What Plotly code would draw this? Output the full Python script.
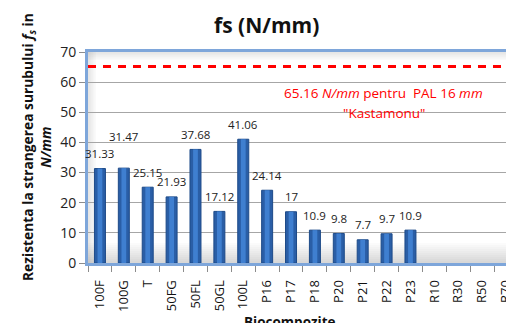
import plotly.graph_objects as go

# Screw-tightening resistance fs (N/mm) per biocomposite sample
categories = ["100F", "100G", "T", "50FG", "50FL", "50GL", "100L",
              "P16", "P17", "P18", "P20", "P21", "P22", "P23",
              "R10", "R30", "R50", "R70"]
fs_values = [31.33, 31.47, 25.15, 21.93, 37.68, 17.12, 41.06,
             24.14, 17, 10.9, 9.8, 7.7, 9.7, 10.9,
             None, None, None, None]
# reference value for commercial chipboard (PAL 16 mm, Kastamonu)
pal_reference = 65.16
y_ticks = [0, 10, 20, 30, 40, 50, 60, 70]

W, H = 506, 323
ML, MT, MB = 88, 52, 60
plot_h = H - MT - MB
plot_w = W - ML

FONT = "Open Sans, Noto Sans, sans-serif"
BORDER = "#7EA6DA"


def px_x(px):
    return (px - ML) / plot_w


def px_y(py):
    return (H - MB - py) / plot_h


fig = go.Figure()

# bars: dark outer body plus a lighter centre strip for the rounded look
fig.add_trace(go.Bar(
    x=categories, y=fs_values, width=0.46,
    marker=dict(color="#2A5EA6", line=dict(color="#1D4A88", width=1)),
    hoverinfo="x+y", showlegend=False,
))
fig.add_trace(go.Bar(
    x=categories, y=fs_values, width=0.2,
    marker=dict(color="#3F7FD0", line=dict(width=0)),
    hoverinfo="skip", showlegend=False,
))

# value labels above each bar
label_shift = {"100G": 32}
for cat, val in zip(categories, fs_values):
    if val is None:
        continue
    fig.add_annotation(
        x=cat, y=val, text=f"{val:g}", showarrow=False,
        xanchor="center", yanchor="middle",
        yshift=label_shift.get(cat, 15),
        font=dict(family=FONT, size=11.5, color="#222222"),
    )

shapes = []
# soft inner shadow along the bottom, left and top of the plot area
for i in range(1, 11):
    shapes.append(dict(type="rect", xref="paper", yref="paper",
                       x0=0, x1=1, y0=0, y1=(2 * i) / plot_h,
                       fillcolor="rgba(120,120,120,0.028)", line_width=0,
                       layer="below"))
for i in range(1, 6):
    shapes.append(dict(type="rect", xref="paper", yref="paper",
                       x0=0, x1=(1.6 * i) / plot_w, y0=0, y1=1,
                       fillcolor="rgba(120,120,120,0.04)", line_width=0,
                       layer="below"))
    shapes.append(dict(type="rect", xref="paper", yref="paper",
                       x0=0, x1=1, y0=1 - (1.6 * i) / plot_h, y1=1,
                       fillcolor="rgba(120,120,120,0.04)", line_width=0,
                       layer="below"))

# dashed reference line
shapes.append(dict(type="line", xref="paper", yref="y",
                   x0=0, x1=1, y0=pal_reference, y1=pal_reference,
                   line=dict(color="#FF0000", width=3, dash="8px,7px")))
fig.update_layout(shapes=shapes)


def note(text, x, y, size, color="#111111", **kw):
    fig.add_annotation(
        xref="paper", yref="paper", x=px_x(x), y=px_y(y), text=text,
        showarrow=False, xanchor=kw.pop("xanchor", "center"),
        yanchor=kw.pop("yanchor", "middle"),
        font=dict(family=FONT, size=size, color=color), **kw,
    )


note(f"{pal_reference:g} <i>N/mm</i> pentru&nbsp; PAL 16 <i>mm</i>",
     383.5, 93, 13.5, "#FF0000")
note("\"Kastamonu\"", 383.5, 113, 13.5, "#FF0000")

# chart title
note("<b>fs (N/mm)</b>", 266, 25, 21)

# axis titles
note("<b>Rezistenta la strangerea surubului <i>f<sub>s</sub></i> in</b>"
     "<br><b><i>N/mm</i></b>", 36, 147, 13.8, textangle=-90)
note("<b>Biocompozite</b>", 290, 311, 13.5, yanchor="top")

fig.update_layout(
    width=W, height=H,
    margin=dict(l=ML, r=0, t=MT, b=MB, pad=0),
    paper_bgcolor="white", plot_bgcolor="white",
    barmode="overlay",
    xaxis=dict(
        type="category", categoryorder="array", categoryarray=categories,
        range=[-0.5, len(categories) - 1],
        tickangle=-90, tickson="boundaries",
        ticks="outside", ticklen=6, tickcolor="#8C8C8C",
        ticklabelstandoff=9,
        tickfont=dict(family=FONT, size=13, color="#111111"),
        showgrid=False, showline=True, linecolor=BORDER, linewidth=3,
        mirror=True, zeroline=False, fixedrange=True, automargin=False,
    ),
    yaxis=dict(
        range=[0, 70], tickvals=y_ticks,
        ticks="outside", ticklen=6, tickcolor="#8C8C8C",
        tickfont=dict(family=FONT, size=14, color="#222222"),
        showgrid=True, gridcolor="#A6A6A6", gridwidth=1,
        showline=True, linecolor=BORDER, linewidth=3,
        zeroline=False, fixedrange=True, automargin=False,
    ),
)

fig.write_html("out.html", config={"displayModeBar": False})
